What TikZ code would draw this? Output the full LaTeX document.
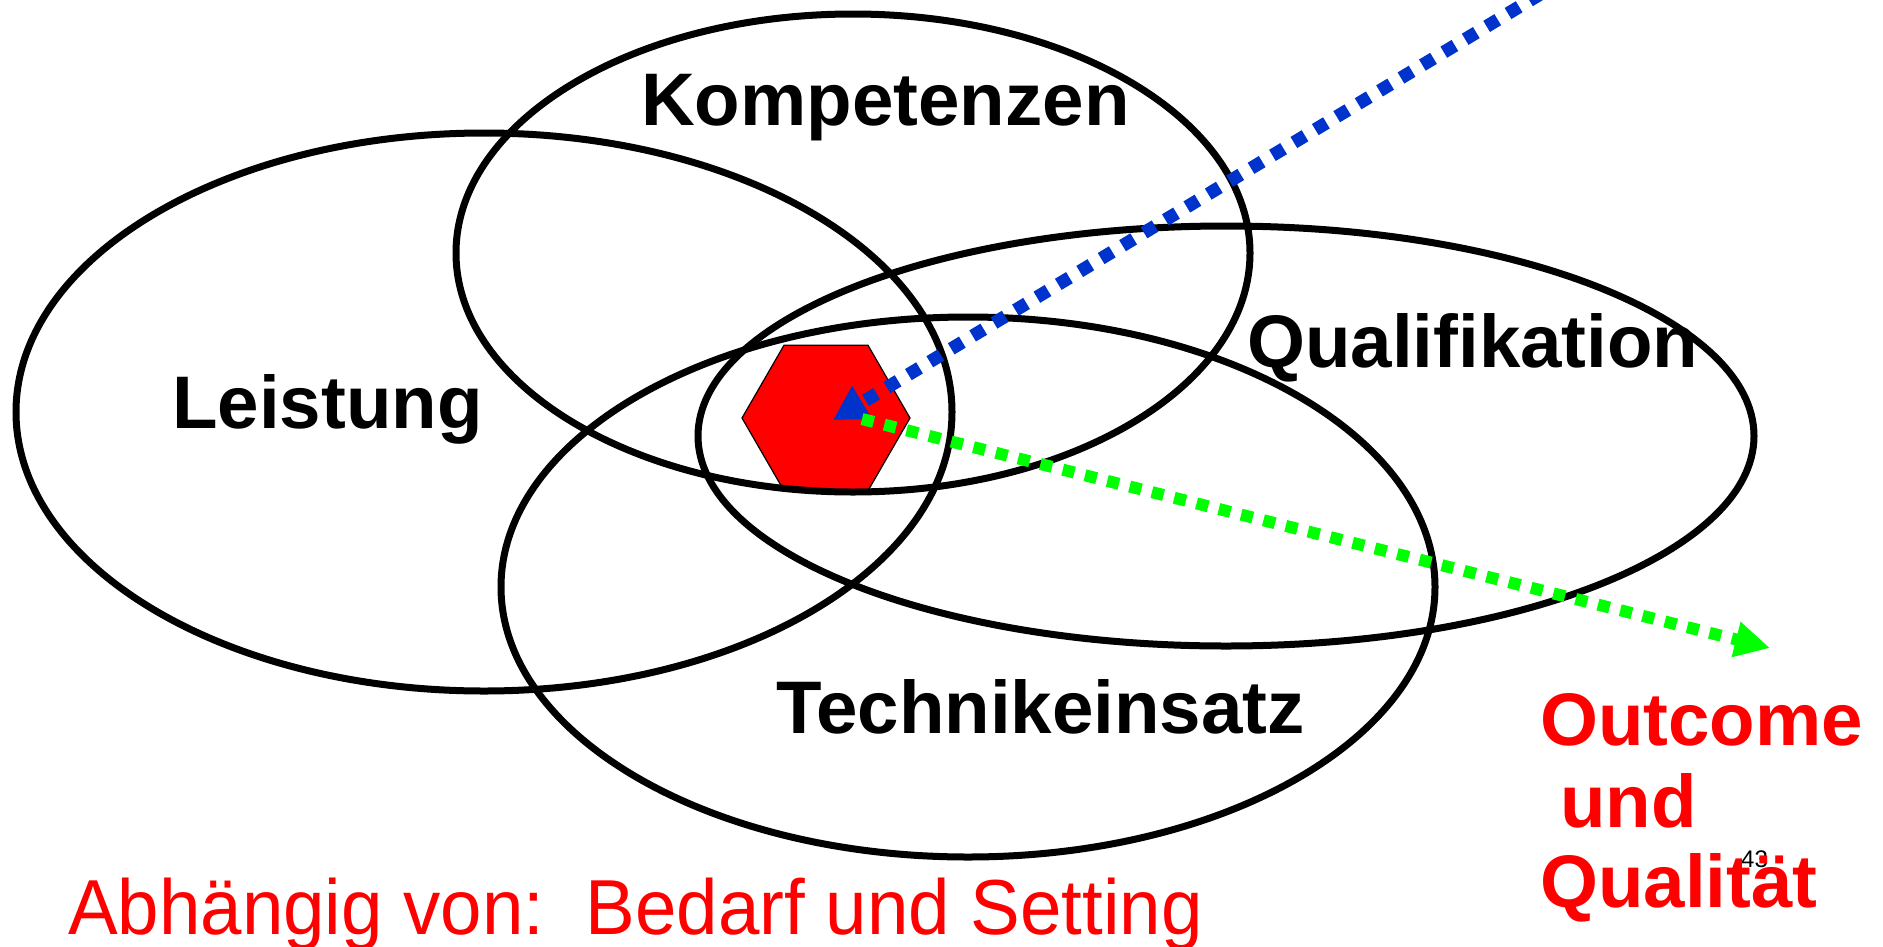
\documentclass[tikz,border=0pt]{standalone}
\usepackage{fontspec}
\setmainfont{Liberation Sans}
\usetikzlibrary{arrows.meta,shapes.geometric}
\definecolor{arrowblue}{RGB}{0,51,204}
\definecolor{arrowgreen}{RGB}{0,255,0}
\definecolor{hexred}{RGB}{255,0,0}
\begin{document}
\begin{tikzpicture}[x=1pt,y=-1pt,
  ring/.style={draw=black, line width=7pt},
  biglabel/.style={font=\fontsize{74.5}{80}\selectfont\bfseries, inner sep=0pt, anchor=base west},
  redlabel/.style={biglabel, text=hexred},
  hexagon/.style={regular polygon, regular polygon sides=6, minimum size=168pt, inner sep=0pt, fill=hexred, draw=black, line width=1.2pt},
  bluearrow/.style={draw=arrowblue, line width=13pt, dash pattern=on 13pt off 12pt, line cap=butt,
    -{Triangle[length=34pt, width=36pt, fill=arrowblue]}},
  greenarrow/.style={draw=arrowgreen, line width=12pt, dash pattern=on 12pt off 11pt, line cap=butt,
    -{Triangle[length=35pt, width=34pt, fill=arrowgreen]}}
]
\path[use as bounding box] (0,0) rectangle (1883,946);
\clip (0,0) rectangle (1883,946);

% core hexagon
\node[hexagon] (core) at (826,418) {};

% four ellipses
\draw[ring] (484,412) ellipse [x radius=468pt, y radius=279pt];
\draw[ring] (853,253) ellipse [x radius=397pt, y radius=239pt];
\draw[ring] (1226,436) ellipse [x radius=528pt, y radius=210pt];
\draw[ring] (968,587) ellipse [x radius=467pt, y radius=270pt];

% arrows
\coordinate (bluefar) at (1562,-19);
\coordinate (bluetip) at (833,420);
\coordinate (greenstart) at (862,419);
\coordinate (greentip) at (1770,648);
\draw[bluearrow] (bluefar) -- (bluetip);
\draw[greenarrow] (greenstart) -- (greentip);

% labels
\node[biglabel] (komp) at (641,125) {Kompetenzen};
\node[biglabel] (leist) at (172,428) {Leistung};
\node[biglabel] (qual) at (1247,367) {Qualifikation};
\node[biglabel] (tech) at (776,733) {Technikeinsatz};

\node[anchor=base west, inner sep=0pt, font=\fontsize{24}{26}\selectfont] (pagenum) at (1741,867) {43};

\node[redlabel] (out1) at (1540,745) {Outcome};
\node[redlabel] (out2) at (1560,827) {und};
\node[redlabel] (out3) at (1540,907) {Qualität};

\node[anchor=base west, inner sep=0pt, text=hexred, font=\fontsize{78}{80}\selectfont] (dep) at (68,934)
  {\scalebox{0.955}[1]{Abhängig von:\ \ Bedarf und Setting}};
\end{tikzpicture}
\end{document}
